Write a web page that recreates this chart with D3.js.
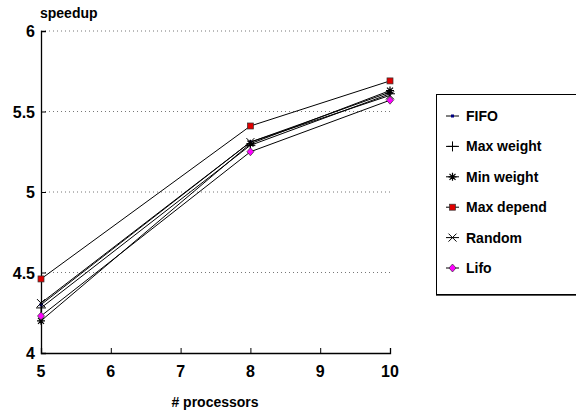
<!DOCTYPE html>
<html>
<head>
<meta charset="utf-8">
<script src="https://cdn.jsdelivr.net/npm/d3@7"></script>
<style>
  body { margin: 0; background: #fff; }
  text { font-family: "Liberation Sans", Arial, sans-serif; font-weight: bold; }
</style>
</head>
<body>
<div id="chart"></div>
<script>
// ---- data ----
var processors = [5, 8, 10];
var seriesNames = ["FIFO", "Max weight", "Min weight", "Max depend", "Random", "Lifo"];
var fifo      = [4.30, 5.31, 5.62];
var maxWeight = [4.28, 5.29, 5.61];
var minWeight = [4.20, 5.30, 5.63];
var maxDepend = [4.46, 5.41, 5.69];
var random    = [4.31, 5.31, 5.60];
var lifo      = [4.23, 5.25, 5.57];
var xTicks = [5, 6, 7, 8, 9, 10];
var yTicks = [4, 4.5, 5, 5.5, 6];

var seriesVals = [fifo, maxWeight, minWeight, maxDepend, random, lifo];
var markers = ["dot", "plus", "star", "square", "cross", "diamond"];

var W = 576, H = 412;
var svg = d3.select("#chart").append("svg").attr("width", W).attr("height", H);

var x = d3.scaleLinear().domain([5, 10]).range([41, 390]);
var y = d3.scaleLinear().domain([4, 6]).range([353, 31]);

// dotted grid
svg.append("g").selectAll("line")
  .data(yTicks.filter(function(d) { return d > 4; }))
  .enter().append("line")
  .attr("x1", x(5)).attr("x2", x(10))
  .attr("y1", function(d) { return y(d); }).attr("y2", function(d) { return y(d); })
  .attr("stroke", "#777").attr("stroke-width", 1).attr("stroke-dasharray", "1,3");

// axes
var yAxis = svg.append("g").attr("transform", "translate(" + x(5) + ",0)")
  .call(d3.axisRight(y).tickValues(yTicks).tickSize(5).tickFormat(""));
var xAxis = svg.append("g").attr("transform", "translate(0," + y(4) + ")")
  .call(d3.axisTop(x).tickValues(xTicks).tickSize(5).tickFormat(""));
[xAxis, yAxis].forEach(function(a) {
  a.select(".domain").attr("stroke", "#000").attr("stroke-width", 1.3);
  a.selectAll(".tick line").attr("stroke", "#000");
});

svg.append("g").selectAll("text").data(yTicks).enter().append("text")
  .attr("x", 35).attr("y", function(d) { return y(d) + 6; })
  .attr("text-anchor", "end").attr("font-size", 16)
  .text(function(d) { return d; });
svg.append("g").selectAll("text").data(xTicks).enter().append("text")
  .attr("x", function(d) { return x(d); }).attr("y", 377)
  .attr("text-anchor", "middle").attr("font-size", 16)
  .text(function(d) { return d; });

svg.append("text").attr("x", 40).attr("y", 18).attr("font-size", 14).text("speedup");
svg.append("text").attr("x", 215).attr("y", 407).attr("text-anchor", "middle")
  .attr("font-size", 14).text("# processors");

// markers
function drawMarker(g, type) {
  if (type === "dot") {
    g.append("rect").attr("x", -1.5).attr("y", -1.5).attr("width", 3).attr("height", 3)
      .attr("fill", "#000080");
  } else if (type === "plus") {
    g.append("path").attr("d", "M-5,0H5M0,-5V5").attr("stroke", "#000").attr("fill", "none");
  } else if (type === "star") {
    g.append("path").attr("d", "M-4,0H4M0,-4V4M-3,-3L3,3M-3,3L3,-3")
      .attr("stroke", "#000").attr("stroke-width", 1.2).attr("fill", "none");
  } else if (type === "square") {
    g.append("rect").attr("x", -3).attr("y", -3).attr("width", 6).attr("height", 6)
      .attr("fill", "#e00000").attr("stroke", "#333").attr("stroke-width", 0.7);
  } else if (type === "cross") {
    g.append("path").attr("d", "M-4,-4L4,4M-4,4L4,-4").attr("stroke", "#000").attr("fill", "none");
  } else if (type === "diamond") {
    g.append("path").attr("d", "M0,-4L3.5,0L0,4L-3.5,0Z")
      .attr("fill", "#ff00ff").attr("stroke", "#333").attr("stroke-width", 0.7);
  }
}

var line = d3.line()
  .x(function(d, i) { return x(processors[i]); })
  .y(function(d) { return y(d); });

seriesVals.forEach(function(vals, s) {
  svg.append("path").datum(vals).attr("d", line)
    .attr("fill", "none").attr("stroke", "#000").attr("stroke-width", 1);
});
seriesVals.forEach(function(vals, s) {
  vals.forEach(function(v, i) {
    var g = svg.append("g").attr("transform", "translate(" + x(processors[i]) + "," + y(v) + ")");
    drawMarker(g, markers[s]);
  });
});

// legend
var lg = svg.append("g");
lg.append("rect").attr("x", 436.5).attr("y", 94.5).attr("width", 150).attr("height", 200)
  .attr("fill", "#fff").attr("stroke", "#000").attr("stroke-width", 1);
lg.append("line").attr("x1", 436).attr("x2", 576).attr("y1", 295.5).attr("y2", 295.5)
  .attr("stroke", "#555").attr("stroke-width", 1);
seriesNames.forEach(function(name, s) {
  var ly = 116 + s * 30.4;
  lg.append("line").attr("x1", 446).attr("x2", 459).attr("y1", ly).attr("y2", ly)
    .attr("stroke", "#000");
  drawMarker(lg.append("g").attr("transform", "translate(452.5," + ly + ")"), markers[s]);
  lg.append("text").attr("x", 466).attr("y", ly + 5).attr("font-size", 14).text(name);
});
</script>
</body>
</html>
